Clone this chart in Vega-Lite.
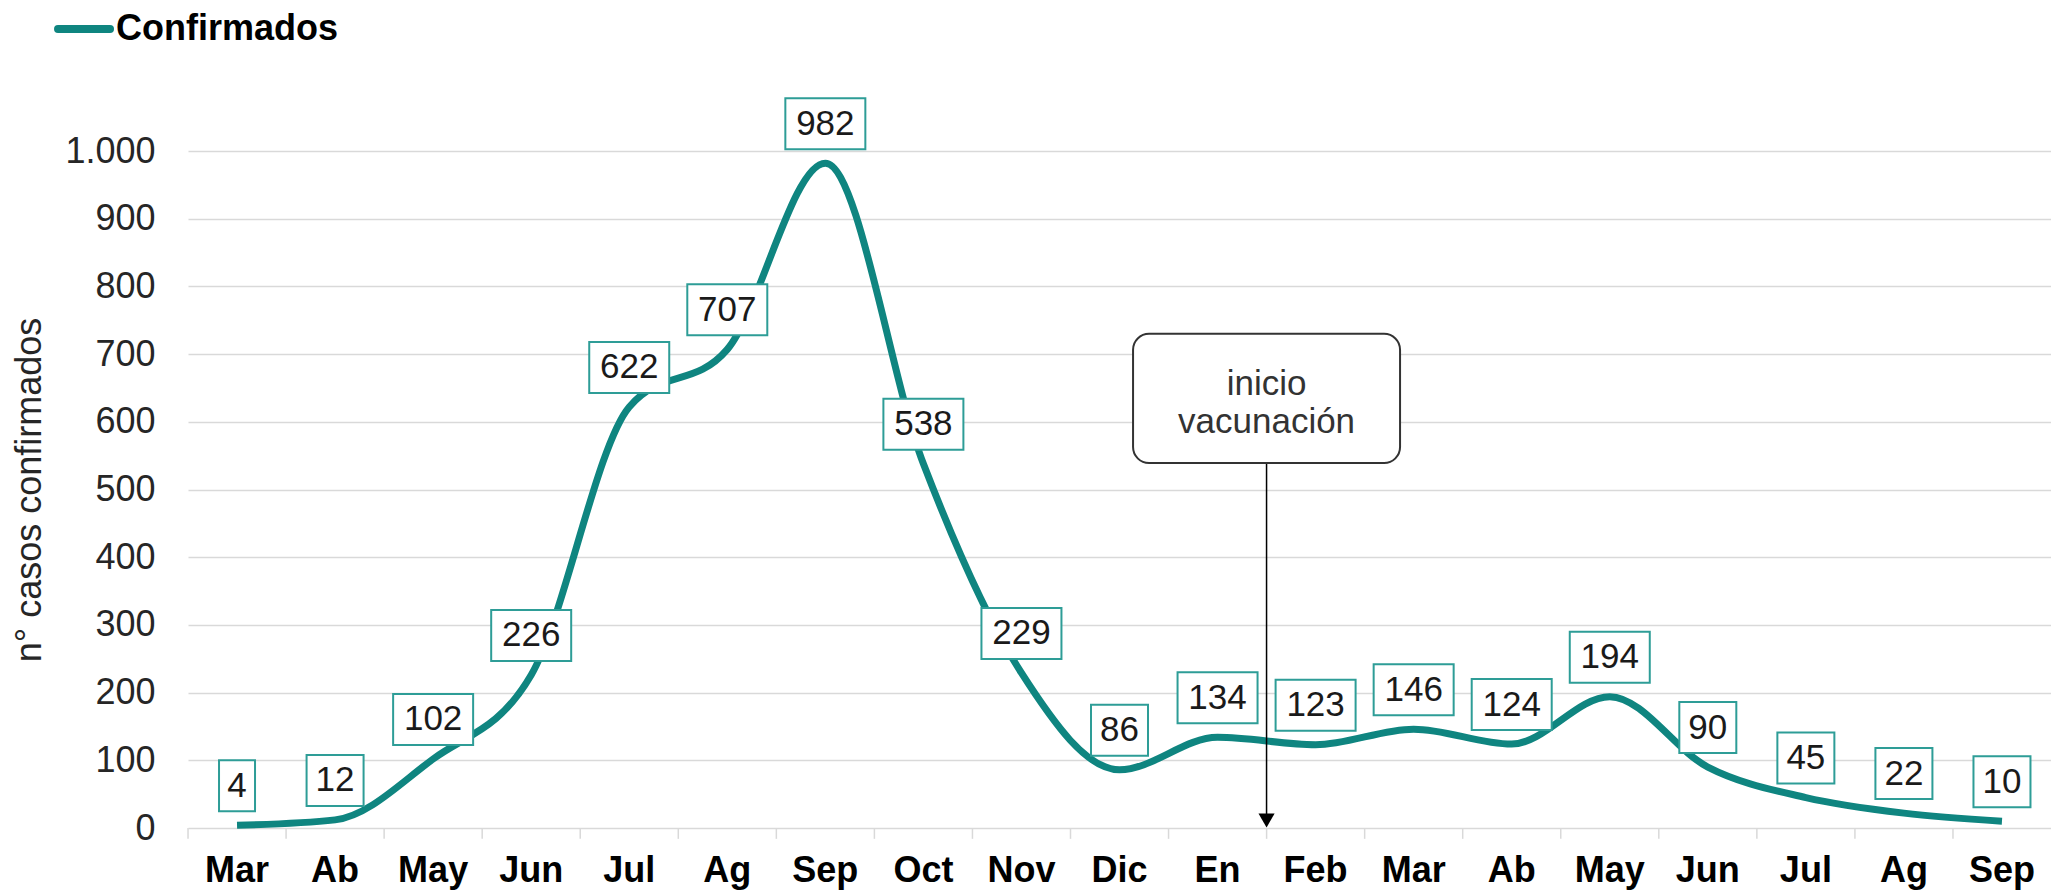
{
  "$schema": "https://vega.github.io/schema/vega-lite/v6.json",
  "autosize": {"type": "none"},
  "padding": {"left": 188, "top": 151, "right": 0, "bottom": 64},
  "width": 1863,
  "height": 677,
  "background": "white",
  "config": {"view": {"stroke": null}, "font": "Liberation Sans"},
  "data": {
    "values": [
      {"mes": "Mar 20", "v": 4},
      {"mes": "Ab 20", "v": 12},
      {"mes": "May 20", "v": 102},
      {"mes": "Jun 20", "v": 226},
      {"mes": "Jul 20", "v": 622},
      {"mes": "Ag 20", "v": 707},
      {"mes": "Sep 20", "v": 982},
      {"mes": "Oct 20", "v": 538},
      {"mes": "Nov 20", "v": 229},
      {"mes": "Dic 20", "v": 86},
      {"mes": "En 21", "v": 134},
      {"mes": "Feb 21", "v": 123},
      {"mes": "Mar 21", "v": 146},
      {"mes": "Ab 21", "v": 124},
      {"mes": "May 21", "v": 194},
      {"mes": "Jun 21", "v": 90},
      {"mes": "Jul 21", "v": 45},
      {"mes": "Ag 21", "v": 22},
      {"mes": "Sep 21", "v": 10}
    ]
  },
  "layer": [
    {
      "mark": {"type": "line", "interpolate": "monotone", "strokeWidth": 7, "color": "#0f8580"},
      "encoding": {
        "x": {
          "field": "mes",
          "type": "nominal",
          "sort": null,
          "scale": {"type": "band", "paddingInner": 0, "paddingOuter": 0},
          "axis": {
            "title": null,
            "labelExpr": "slice(datum.value, 0, -3)",
            "labelFontSize": 36,
            "labelFontWeight": "bold",
            "labelColor": "black",
            "labelAngle": 0,
            "labelPadding": 25,
            "ticks": false,
            "domain": false,
            "grid": false
          }
        },
        "y": {
          "field": "v",
          "type": "quantitative",
          "scale": {"domain": [0, 1000], "nice": false},
          "axis": {
            "title": "n° casos confirmados",
            "titleFontSize": 36,
            "titleFontWeight": "normal",
            "titleColor": "#262626",
            "titlePadding": 16,
            "values": [0, 100, 200, 300, 400, 500, 600, 700, 800, 900, 1000],
            "labelExpr": "replace(format(datum.value, ','), ',', '.')",
            "labelFontSize": 36,
            "labelColor": "#262626",
            "labelPadding": 33,
            "ticks": false,
            "domain": false,
            "grid": true,
            "gridColor": "#d9d9d9",
            "gridWidth": 1.5
          }
        }
      }
    },
    {
      "mark": {"type": "rule", "xOffset": -49, "color": "#d9d9d9", "strokeWidth": 1.5},
      "encoding": {
        "x": {"field": "mes", "type": "nominal", "sort": null},
        "y": {"datum": 0},
        "y2": {"datum": -16}
      }
    },
    {
      "transform": [{"filter": "datum.v >= 100"}],
      "mark": {"type": "rect", "width": 80, "height": 51, "yOffset": -39.5, "fill": "white", "stroke": "#2e9d97", "strokeWidth": 2},
      "encoding": {
        "x": {"field": "mes", "type": "nominal", "sort": null},
        "y": {"field": "v", "type": "quantitative"}
      }
    },
    {
      "transform": [{"filter": "datum.v >= 10 && datum.v < 100"}],
      "mark": {"type": "rect", "width": 57, "height": 51, "yOffset": -39.5, "fill": "white", "stroke": "#2e9d97", "strokeWidth": 2},
      "encoding": {
        "x": {"field": "mes", "type": "nominal", "sort": null},
        "y": {"field": "v", "type": "quantitative"}
      }
    },
    {
      "transform": [{"filter": "datum.v < 10"}],
      "mark": {"type": "rect", "width": 36, "height": 51, "yOffset": -39.5, "fill": "white", "stroke": "#2e9d97", "strokeWidth": 2},
      "encoding": {
        "x": {"field": "mes", "type": "nominal", "sort": null},
        "y": {"field": "v", "type": "quantitative"}
      }
    },
    {
      "mark": {"type": "text", "fontSize": 35, "yOffset": -39.5, "color": "#1a1a1a", "baseline": "middle", "align": "center"},
      "encoding": {
        "x": {"field": "mes", "type": "nominal", "sort": null},
        "y": {"field": "v", "type": "quantitative"},
        "text": {"field": "v", "type": "quantitative"}
      }
    },
    {
      "data": {"values": [{"mes": "En 21", "serie": "Confirmados"}]},
      "mark": {"type": "rule", "xOffset": 49, "color": "black", "strokeWidth": 1.5},
      "encoding": {
        "x": {"field": "mes", "type": "nominal", "sort": null},
        "y": {"datum": 539},
        "y2": {"datum": 16}
      }
    },
    {
      "data": {"values": [{"mes": "En 21", "serie": "Confirmados"}]},
      "mark": {"type": "point", "shape": "triangle-down", "filled": true, "color": "black", "opacity": 1, "size": 260, "xOffset": 49},
      "encoding": {
        "x": {"field": "mes", "type": "nominal", "sort": null},
        "y": {"datum": 11}
      }
    },
    {
      "data": {"values": [{"mes": "En 21", "serie": "Confirmados"}]},
      "mark": {"type": "rect", "width": 267, "xOffset": 49, "cornerRadius": 16, "fill": "white", "stroke": "#333333", "strokeWidth": 2},
      "encoding": {
        "x": {"field": "mes", "type": "nominal", "sort": null},
        "y": {"datum": 730},
        "y2": {"datum": 539}
      }
    },
    {
      "data": {"values": [{"mes": "En 21", "serie": "Confirmados"}]},
      "mark": {"type": "text", "text": ["inicio", "vacunación"], "lineHeight": 38, "fontSize": 35, "color": "#333333", "xOffset": 49, "baseline": "middle", "align": "center"},
      "encoding": {
        "x": {"field": "mes", "type": "nominal", "sort": null},
        "y": {"datum": 656}
      }
    },
    {
      "data": {"values": [{"mes": "Mar 20", "serie": "Confirmados"}]},
      "mark": {"type": "rule", "color": "#0f8580", "strokeWidth": 8, "strokeCap": "round", "xOffset": -179, "x2Offset": -127, "yOffset": -122},
      "encoding": {
        "x": {"field": "mes", "type": "nominal", "sort": null},
        "x2": {"field": "mes"},
        "y": {"datum": 1000}
      }
    },
    {
      "data": {"values": [{"mes": "Mar 20", "serie": "Confirmados"}]},
      "mark": {"type": "text", "fontSize": 36, "fontWeight": "bold", "color": "black", "align": "left", "baseline": "middle", "xOffset": -121, "yOffset": -122},
      "encoding": {
        "x": {"field": "mes", "type": "nominal", "sort": null},
        "y": {"datum": 1000},
        "text": {"field": "serie"}
      }
    }
  ]
}
